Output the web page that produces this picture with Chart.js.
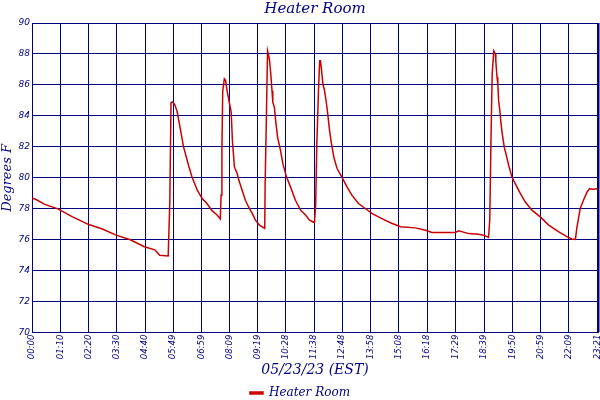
<!DOCTYPE html>
<html>
<head>
<meta charset="utf-8">
<script src="https://cdn.jsdelivr.net/npm/chart.js@4"></script>
<style>
  html, body { margin: 0; padding: 0; background: #fff; }
  .chart-container { width: 600px; height: 400px; }
</style>
</head>
<body>
<div class="chart-container">
  <canvas id="chart"></canvas>
</div>
<script>
// tick labels along the time axis
const tickLabels = ['00:00', '01:10', '02:20', '03:30', '04:40', '05:49', '06:59', '08:09', '09:19', '10:28',
  '11:38', '12:48', '13:58', '15:08', '16:18', '17:29', '18:39', '19:50', '20:59', '22:09', '23:21'];

// readings: minutes after midnight and temperature
const minutes = [0, 10, 30, 64, 99, 139, 174, 208, 243, 278, 304, 316, 337,
  341, 344, 347, 353, 359, 371, 375, 388, 396, 409, 421, 433, 445, 458, 466,
  468, 470, 472, 476, 479, 483, 489, 493, 496, 501, 508, 512, 520, 528, 536, 545, 553, 563, 576,
  577, 580, 583, 586, 588, 591, 594, 596, 600, 603, 608, 615, 621, 630, 640, 652, 665, 677, 687, 699,
  702, 705, 709, 712, 714, 716, 720, 724, 729, 732, 736, 740, 747, 755, 767, 780, 792, 808, 825, 841,
  866, 887, 912, 949, 974, 990, 1048, 1056, 1081, 1105, 1118, 1130,
  1133, 1136, 1139, 1143, 1147, 1148, 1151, 1153, 1155, 1158, 1161, 1164, 1169, 1174, 1180, 1188, 1196,
  1209, 1221, 1238, 1258, 1279, 1303, 1324, 1336, 1345,
  1349, 1357, 1365, 1374, 1380, 1390, 1400];
const temps = [78.7, 78.6, 78.3, 78.0, 77.5, 77.0, 76.7, 76.3, 76.0, 75.55, 75.35, 75.0, 74.95,
  78.4, 84.85, 84.9, 84.75, 84.3, 82.6, 82.0, 80.75, 80.05, 79.2, 78.66, 78.34, 77.9, 77.6, 77.35,
  78.9, 81.8, 85.6, 86.4, 86.3, 85.6, 84.77, 84.23, 82.4, 80.7, 80.27, 79.84, 79.2, 78.55, 78.12, 77.7, 77.27, 76.95, 76.73,
  79.6, 83.8, 88.2, 87.88, 87.56, 86.7, 85.63, 84.87, 84.55, 83.7, 82.6, 81.77, 80.9, 80.05, 79.4, 78.55, 77.9, 77.6, 77.27, 77.1,
  78.2, 82.2, 85.6, 87.56, 87.56, 87.13, 86.06, 85.63, 84.77, 84.13, 83.16, 82.41, 81.34, 80.6, 80.05, 79.4, 78.87, 78.34, 78.02, 77.7,
  77.37, 77.1, 76.84, 76.77, 76.62, 76.47, 76.47, 76.58, 76.4, 76.36, 76.3, 76.15,
  77.27, 82.3, 86.7, 88.2, 88.0, 87.56, 86.5, 86.06, 84.98, 84.34, 83.48, 82.84, 81.98, 81.45, 80.8, 80.05, 79.63,
  78.98, 78.44, 77.9, 77.48, 76.95, 76.52, 76.2, 76.05, 76.03,
  76.84, 78.02, 78.55, 79.09, 79.3, 79.26, 79.3];

const tickMinutes = tickLabels.map(s => {
  const p = s.split(':');
  return parseInt(p[0], 10) * 60 + parseInt(p[1], 10);
});

const navy = '#000080';
const points = minutes.map((m, i) => ({ x: m, y: temps[i] }));

const ctx = document.getElementById('chart').getContext('2d');
const myChart = new Chart(ctx, {
  type: 'line',
  data: {
    datasets: [{
      label: 'Heater Room',
      data: points,
      borderColor: '#cc0000',
      backgroundColor: '#cc0000',
      borderWidth: 1.5,
      pointRadius: 0,
      tension: 0,
      fill: false
    }]
  },
  options: {
    responsive: true,
    maintainAspectRatio: false,
    animation: false,
    layout: { padding: { top: 0, right: 0, bottom: -9, left: 0 } },
    plugins: {
      title: {
        display: true,
        fullSize: false,
        text: 'Heater Room',
        color: navy,
        font: { family: 'DejaVu Serif', style: 'italic', size: 15, weight: 'normal' },
        padding: { top: 0, bottom: 5 }
      },
      legend: {
        position: 'bottom',
        labels: {
          color: navy,
          boxWidth: 13,
          boxHeight: 2,
          padding: 4,
          font: { family: 'DejaVu Serif', style: 'italic', size: 12 }
        }
      },
      tooltip: { enabled: false }
    },
    scales: {
      x: {
        type: 'linear',
        min: 0,
        max: tickMinutes[tickMinutes.length - 1],
        afterBuildTicks: axis => {
          axis.ticks = tickMinutes.map(v => ({ value: v }));
        },
        // let the last rotated label sit on the right edge, as in the original
        afterFit: axis => {
          axis.paddingRight = 2;
        },
        ticks: {
          color: navy,
          minRotation: 90,
          maxRotation: 90,
          autoSkip: false,
          padding: 2,
          font: { family: 'DejaVu Sans', style: 'italic', size: 8.5, lineHeight: 1 },
          callback: (value, index) => tickLabels[index]
        },
        grid: {
          color: navy,
          drawTicks: false,
          lineWidth: c => (c.index === tickMinutes.length - 1 ? 2.5 : 1)
        },
        border: { color: navy, width: 1 },
        title: {
          display: true,
          text: '05/23/23 (EST)',
          color: navy,
          font: { family: 'DejaVu Serif', style: 'italic', size: 14 },
          padding: { top: 1, bottom: 4 }
        }
      },
      y: {
        min: 70,
        max: 90,
        ticks: {
          stepSize: 2,
          color: navy,
          padding: 2,
          font: { family: 'DejaVu Sans', style: 'italic', size: 9 }
        },
        grid: { color: navy, drawTicks: false },
        border: { color: navy, width: 1 },
        title: {
          display: true,
          text: 'Degrees F',
          color: navy,
          font: { family: 'DejaVu Serif', style: 'italic', size: 13 },
          padding: { top: 0, bottom: 1 }
        }
      }
    }
  }
});
</script>
</body>
</html>
